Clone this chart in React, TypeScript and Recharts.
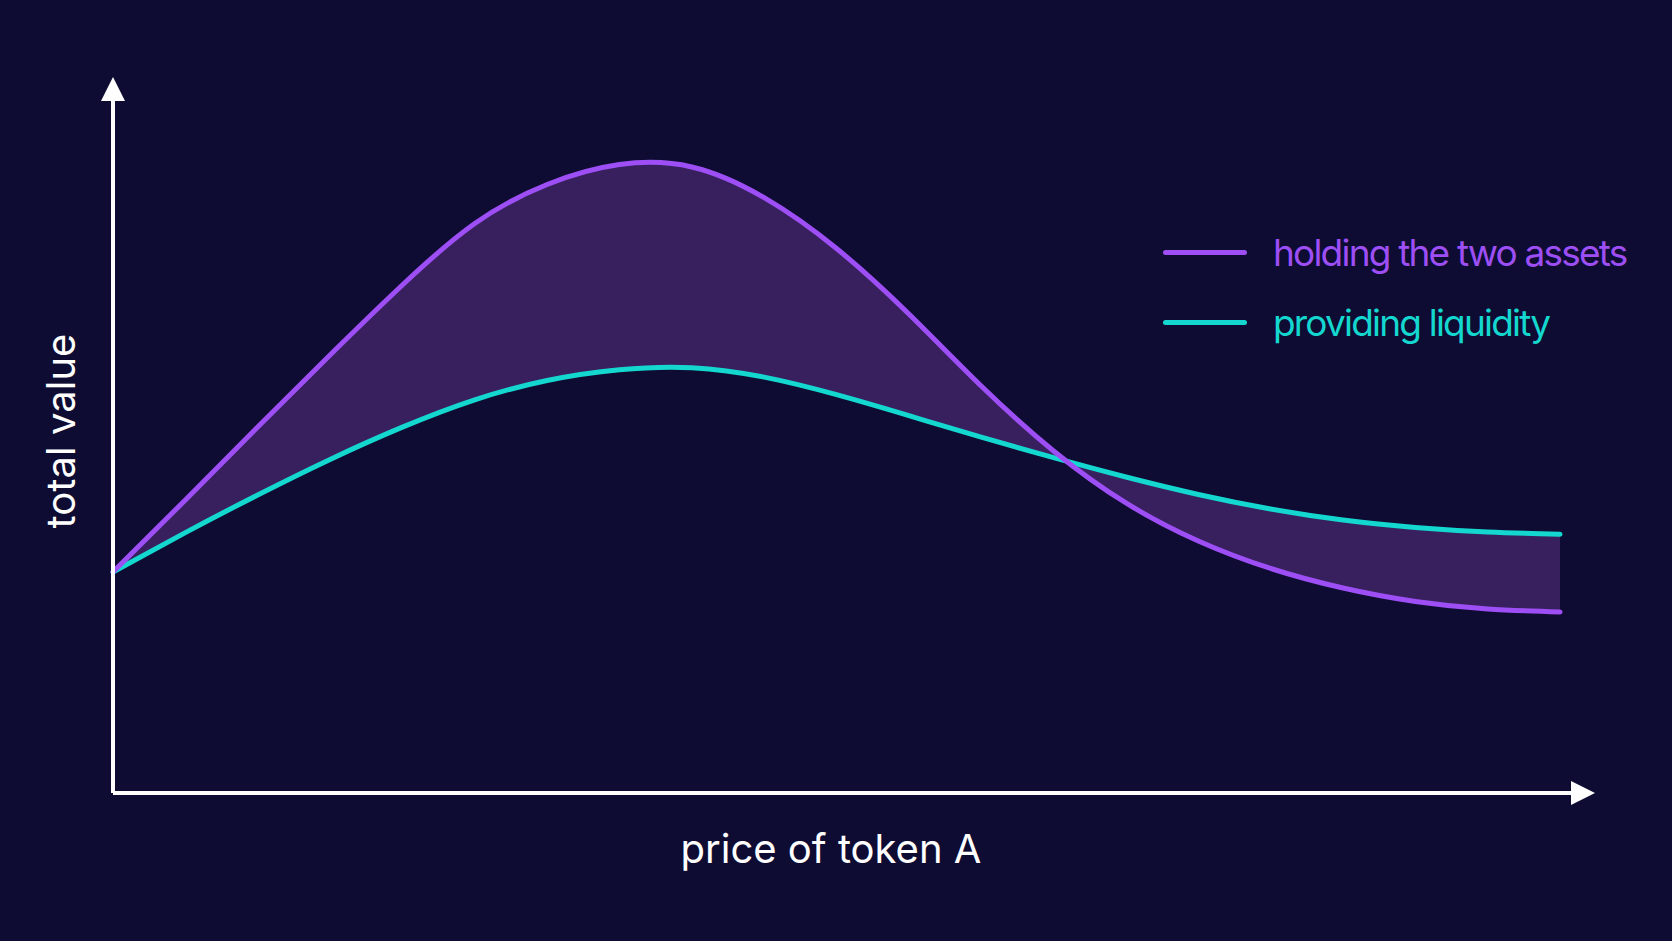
import React from 'react';
import { ComposedChart, Line, Area, XAxis, YAxis, Legend, Label } from 'recharts';

// price of token A (0..100 scale)
const prices = [0, 5, 10, 15, 20, 25, 30, 35, 40, 45, 50, 55, 60, 65, 70, 75, 80, 85, 90, 95, 100];
// total value when holding the two assets
const holdingValues = [30.88, 40.94, 51.14, 61.2, 70.98, 79.57, 85.02, 87.8, 87.47, 83.18, 76.08, 66.93, 56.87, 47.79, 40.52, 35.21, 31.37, 28.64, 26.76, 25.71, 25.29];
// total value when providing liquidity
const liquidityValues = [30.88, 36.38, 41.64, 46.61, 51.12, 54.94, 57.64, 59.14, 59.42, 58.1, 55.65, 52.72, 49.71, 46.85, 44.15, 41.71, 39.68, 38.14, 37.1, 36.47, 36.16];

const seriesNames = ['holding the two assets', 'providing liquidity'];
const xLabel = 'price of token A';
const yLabel = 'total value';

const BG = '#0e0c33';
const PURPLE = '#9d4ff5';
const TEAL = '#14d8cf';
const FILL = '#38205f';
const FONT = 'Inter, "Noto Sans", sans-serif';

const data = prices.map((p, i) => ({
  price: p,
  holding: holdingValues[i],
  liquidity: liquidityValues[i],
  band: [liquidityValues[i], holdingValues[i]],
}));

const legendColors = [PURPLE, TEAL];

const renderLegend = () => (
  <div style={{ display: 'flex', flexDirection: 'column', gap: 0 }}>
    {seriesNames.map((name, i) => (
      <div key={name} style={{ display: 'flex', alignItems: 'center', height: 70 }}>
        <div style={{ width: 84, height: 5, borderRadius: 3, background: legendColors[i], marginRight: 26 }} />
        <span style={{ color: legendColors[i], fontFamily: FONT, fontSize: 37, letterSpacing: -1.8, whiteSpace: 'nowrap' }}>{name}</span>
      </div>
    ))}
  </div>
);

const YLabelContent = (props: any) => {
  const { viewBox } = props;
  const cx = viewBox.x + viewBox.width - 53;
  const cy = viewBox.y + viewBox.height / 2 - 7;
  return (
    <text x={cx} y={cy} transform={`rotate(-90 ${cx} ${cy})`} textAnchor="middle" dominantBaseline="central" fill="#ffffff" fontFamily={FONT} fontSize={40}>
      {yLabel}
    </text>
  );
};

const XLabelContent = (props: any) => {
  const { viewBox } = props;
  const cx = viewBox.x + viewBox.width / 2 - 20;
  const cy = viewBox.y + 70;
  return (
    <text x={cx} y={cy} textAnchor="middle" fill="#ffffff" fontFamily={FONT} fontSize={40}>
      {xLabel}
    </text>
  );
};

export default function App() {
  return (
    <div style={{ position: 'fixed', left: 0, top: 0, width: 1672, height: 941, background: BG }}>
      <svg width={0} height={0} style={{ position: 'absolute' }}>
        <defs>
          <marker id="axisArrow" viewBox="0 0 24 24" markerWidth={24} markerHeight={24} refX={18} refY={12} orient="auto-start-reverse" markerUnits="userSpaceOnUse">
            <path d="M0,0 L24,12 L0,24 Z" fill="#ffffff" />
          </marker>
        </defs>
      </svg>
      <ComposedChart width={1672} height={941} data={data} margin={{ top: 83, right: 83, bottom: 147, left: 112 }}>
        <XAxis
          type="number"
          dataKey="price"
          domain={[0, 102]}
          height={1}
          tick={false}
          tickLine={false}
          axisLine={{ stroke: '#ffffff', strokeWidth: 4, markerEnd: 'url(#axisArrow)' } as any}
        >
          <Label content={<XLabelContent />} />
        </XAxis>
        <YAxis
          type="number"
          domain={[0, 99.2]}
          width={1}
          tick={false}
          tickLine={false}
          axisLine={{ stroke: '#ffffff', strokeWidth: 4, markerStart: 'url(#axisArrow)' } as any}
        >
          <Label content={<YLabelContent />} />
        </YAxis>
        <Area
          type="natural"
          dataKey="band"
          fill={FILL}
          fillOpacity={1}
          stroke="none"
          isAnimationActive={false}
          legendType="none"
          activeDot={false}
        />
        <Line type="natural" dataKey="liquidity" name={seriesNames[1]} stroke={TEAL} strokeWidth={5} strokeLinecap="round" dot={false} activeDot={false} isAnimationActive={false} />
        <Line type="natural" dataKey="holding" name={seriesNames[0]} stroke={PURPLE} strokeWidth={5} strokeLinecap="round" dot={false} activeDot={false} isAnimationActive={false} />
        <Legend content={renderLegend} layout="vertical" verticalAlign="middle" align="center" wrapperStyle={{ position: 'absolute', left: 1163, top: 217, width: 500 }} />
      </ComposedChart>
    </div>
  );
}
